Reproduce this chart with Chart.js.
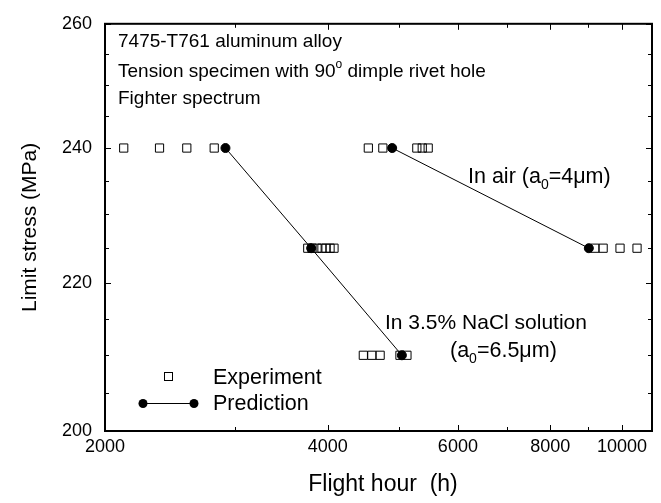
<!DOCTYPE html>
<html>
<head>
<meta charset="utf-8">
<script src="https://cdn.jsdelivr.net/npm/chart.js@4.4.1/dist/chart.umd.min.js"></script>
<style>
  html, body { margin: 0; padding: 0; background: #fff; }
  #wrap { width: 661px; height: 503px; }
</style>
</head>
<body>
<div id="wrap"><canvas id="chart"></canvas></div>
<script>
const FONT = '"Liberation Sans", Arial, sans-serif';

// experiment results (flight hours) at each limit stress level
const expHours240 = [2120, 2370, 2580, 2810, 4540, 4750, 5280, 5370, 5470];
const expHours225 = [3760, 3810, 3870, 3930, 3980, 4030, 4080, 9190, 9430, 9940, 10480];
const expHours210 = [4470, 4590, 4710, 5010, 5120];

// predictions
const naclHours = [2910, 3800, 5040];
const naclStress = [240, 225, 210];
const airHours = [4890, 9020];
const airStress = [240, 225];

// axes
const xTicks = [2000, 3000, 4000, 5000, 6000, 7000, 8000, 9000, 10000];
const xLabels = [2000, 4000, 6000, 8000, 10000];
const yTicks = [200, 205, 210, 215, 220, 225, 230, 235, 240, 245, 250, 255, 260];
const yLabels = [200, 220, 240, 260];

const toPoints = (xs, ys) => xs.map((x, i) => ({ x, y: Array.isArray(ys) ? ys[i] : ys }));

const experimentData = [
  ...toPoints(expHours240, 240),
  ...toPoints(expHours225, 225),
  ...toPoints(expHours210, 210),
];

// draws text with sub/superscript parts
function drawRich(ctx, parts, x, y, size) {
  let cx = x;
  parts.forEach(([txt, kind]) => {
    const s = kind ? Math.round(size * 0.65) : size;
    const dy = kind === "sup" ? -size * 0.45 : kind === "sub" ? size * 0.3 : 0;
    ctx.font = `${s}px ${FONT}`;
    ctx.fillText(txt, cx, y + dy);
    cx += ctx.measureText(txt).width;
  });
}

const decorPlugin = {
  id: "decor",
  afterDraw(chart) {
    const { ctx, chartArea: ca, scales } = chart;
    ctx.save();
    ctx.strokeStyle = "#000";
    ctx.fillStyle = "#000";

    // frame
    ctx.lineWidth = 2;
    ctx.strokeRect(ca.left, ca.top, ca.right - ca.left, ca.bottom - ca.top);

    // inward ticks on all four sides
    ctx.lineWidth = 1;
    ctx.beginPath();
    xTicks.forEach((v) => {
      const px = Math.round(scales.x.getPixelForValue(v)) + 0.5;
      const len = xLabels.includes(v) ? 6 : 4;
      ctx.moveTo(px, ca.bottom); ctx.lineTo(px, ca.bottom - len);
      ctx.moveTo(px, ca.top); ctx.lineTo(px, ca.top + len);
    });
    yTicks.forEach((v) => {
      const py = Math.round(scales.y.getPixelForValue(v)) + 0.5;
      const len = yLabels.includes(v) ? 6 : 4;
      ctx.moveTo(ca.left, py); ctx.lineTo(ca.left + len, py);
      ctx.moveTo(ca.right, py); ctx.lineTo(ca.right - len, py);
    });
    ctx.stroke();

    // axis titles
    ctx.textAlign = "center";
    ctx.textBaseline = "middle";
    ctx.font = `23px ${FONT}`;
    ctx.fillText("Flight hour  (h)", 383, 485);
    ctx.font = `21px ${FONT}`;
    ctx.save();
    ctx.translate(30, (ca.top + ca.bottom) / 2);
    ctx.rotate(-Math.PI / 2);
    ctx.fillText("Limit stress (MPa)", 0, 0);
    ctx.restore();

    // annotations
    ctx.textAlign = "left";
    ctx.textBaseline = "alphabetic";
    const L = ca.left + 13;
    drawRich(ctx, [["7475-T761 aluminum alloy"]], L, 47, 19);
    drawRich(ctx, [["Tension specimen with 90"], ["o", "sup"], [" dimple rivet hole"]], L, 77, 19);
    drawRich(ctx, [["Fighter spectrum"]], L, 104, 19);
    drawRich(ctx, [["In air (a"], ["0", "sub"], ["=4\u03bcm)"]], 468, 183, 21.5);
    drawRich(ctx, [["In 3.5% NaCl solution"]], 385, 329, 21);
    drawRich(ctx, [["(a"], ["0", "sub"], ["=6.5\u03bcm)"]], 450, 357, 21.5);

    // legend
    ctx.lineWidth = 1;
    ctx.strokeRect(164.5, 372.5, 8, 8);
    drawRich(ctx, [["Experiment"]], 213, 384, 21.5);
    ctx.beginPath();
    ctx.moveTo(143, 403.5); ctx.lineTo(194, 403.5);
    ctx.stroke();
    [143, 194].forEach((px) => {
      ctx.beginPath();
      ctx.arc(px, 403.5, 4.5, 0, Math.PI * 2);
      ctx.fill();
    });
    drawRich(ctx, [["Prediction"]], 213, 410, 21.5);
    ctx.restore();
  },
};

new Chart(document.getElementById("chart").getContext("2d"), {
  type: "scatter",
  data: {
    datasets: [
      {
        label: "Prediction (NaCl)",
        data: toPoints(naclHours, naclStress),
        showLine: true,
        borderColor: "#000",
        borderWidth: 1,
        pointRadius: 4.5,
        pointBackgroundColor: "#000",
        pointBorderColor: "#000",
        order: 0,
      },
      {
        label: "Prediction (air)",
        data: toPoints(airHours, airStress),
        showLine: true,
        borderColor: "#000",
        borderWidth: 1,
        pointRadius: 4.5,
        pointBackgroundColor: "#000",
        pointBorderColor: "#000",
        order: 0,
      },
      {
        label: "Experiment",
        data: experimentData,
        pointStyle: "rect",
        pointRadius: 5.8,
        pointBorderWidth: 1,
        pointBorderColor: "#000",
        pointBackgroundColor: "rgba(0,0,0,0)",
        order: 1,
      },
    ],
  },
  options: {
    responsive: true,
    maintainAspectRatio: false,
    animation: false,
    layout: { padding: { top: 20, right: 9, left: 0, bottom: 0 } },
    plugins: { legend: { display: false }, tooltip: { enabled: false } },
    scales: {
      x: {
        type: "logarithmic",
        min: 2000,
        max: 10980,
        afterBuildTicks: (s) => { s.ticks = xTicks.map((v) => ({ value: v })); },
        afterFit: (s) => { s.height = 72; },
        grid: { display: false, drawTicks: false },
        border: { display: false },
        ticks: {
          autoSkip: false,
          maxRotation: 0,
          padding: 5,
          color: "#000",
          font: { family: FONT, size: 18 },
          callback: (v) => (xLabels.includes(v) ? String(v) : ""),
        },
      },
      y: {
        type: "logarithmic",
        min: 200,
        max: 260,
        afterBuildTicks: (s) => { s.ticks = yTicks.map((v) => ({ value: v })); },
        afterFit: (s) => { s.width = 105; },
        grid: { display: false, drawTicks: false },
        border: { display: false },
        ticks: {
          autoSkip: false,
          padding: 13,
          color: "#000",
          font: { family: FONT, size: 18 },
          callback: (v) => (yLabels.includes(v) ? String(v) : ""),
        },
      },
    },
  },
  plugins: [decorPlugin],
});
</script>
</body>
</html>
